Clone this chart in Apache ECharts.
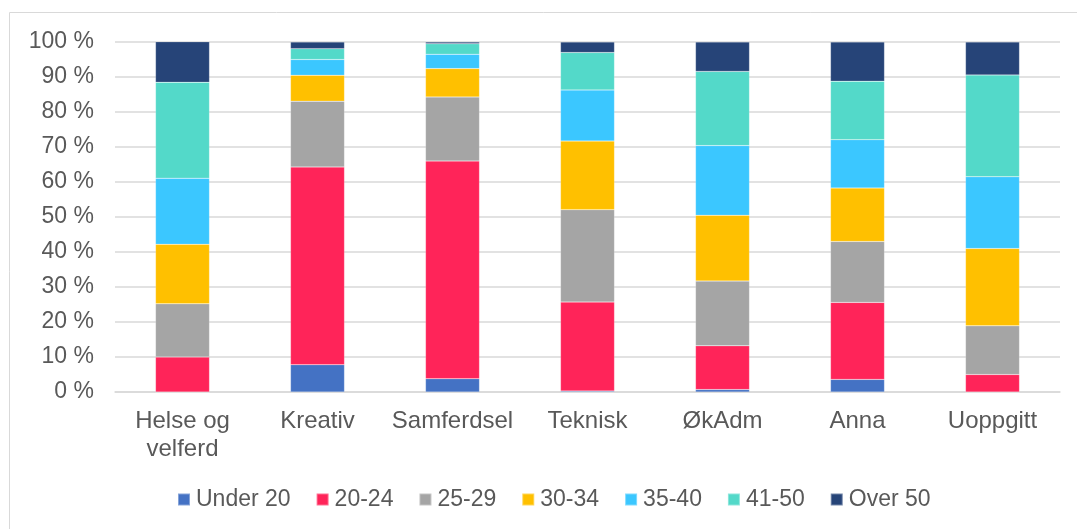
<!DOCTYPE html>
<html>
<head>
<meta charset="utf-8">
<script src="https://cdn.jsdelivr.net/npm/echarts@6/dist/echarts.min.js"></script>
<style>
  html, body { margin: 0; padding: 0; background: #fff; }
  #chart { width: 1077px; height: 529px; }
</style>
</head>
<body>
<div id="chart"></div>
<script>
const categories = ['Helse og\nvelferd', 'Kreativ', 'Samferdsel', 'Teknisk', 'ØkAdm', 'Anna', 'Uoppgitt'];

// share of each age group per area, in percent
const under20 = [0, 7.8, 3.8, 0.3, 0.7, 3.6, 0];
const age20to24 = [10.0, 56.5, 62.2, 25.4, 12.5, 22.0, 5.0];
const age25to29 = [15.2, 18.8, 18.3, 26.4, 18.5, 17.4, 13.9];
const age30to34 = [17.0, 7.4, 8.1, 19.6, 18.8, 15.3, 22.1];
const age35to40 = [18.9, 4.5, 4.1, 14.6, 19.9, 13.8, 20.5];
const age41to50 = [27.4, 3.1, 3.0, 10.7, 21.2, 16.7, 29.1];
const over50 = [11.6, 1.9, 0.5, 3.0, 8.4, 11.2, 9.4];

const seriesNames = ['Under 20', '20-24', '25-29', '30-34', '35-40', '41-50', 'Over 50'];
const seriesData = [under20, age20to24, age25to29, age30to34, age35to40, age41to50, over50];
const colors = ['#4472C4', '#FF2459', '#A5A5A5', '#FFC000', '#3BC7FF', '#53D9C9', '#264478'];

const textColor = '#595959';
const font = 'Liberation Sans, Arial, sans-serif';

const myChart = echarts.init(document.getElementById('chart'));

const option = {
  animation: false,
  color: colors,
  textStyle: { fontFamily: font },
  graphic: [{
    type: 'rect',
    shape: { x: 9.5, y: 12.5, width: 1200, height: 600 },
    style: { fill: 'none', stroke: '#d9d9d9', lineWidth: 1 },
    silent: true
  }],
  grid: { left: 115, right: 17, top: 42, bottom: 137 },
  legend: {
    top: 483,
    left: 172,
    itemWidth: 12,
    itemHeight: 12,
    itemGap: 25,
    icon: 'rect',
    textStyle: { color: textColor, fontSize: 23, fontFamily: font, padding: [0, 0, 0, 1] },
    data: seriesNames
  },
  xAxis: {
    type: 'category',
    data: categories,
    axisLine: { show: true, lineStyle: { color: '#d9d9d9', width: 1.5 } },
    axisTick: { show: false },
    axisLabel: { color: textColor, fontSize: 24, lineHeight: 28, margin: 15, interval: 0 }
  },
  yAxis: {
    type: 'value',
    min: 0,
    max: 100,
    interval: 10,
    axisLine: { show: false },
    axisTick: { show: false },
    splitLine: { lineStyle: { color: '#d9d9d9', width: 1.5 } },
    axisLabel: { color: textColor, fontSize: 23, margin: 21, formatter: '{value} %' }
  },
  series: seriesNames.map((name, i) => ({
    name: name,
    type: 'bar',
    stack: 'total',
    barWidth: 54,
    data: seriesData[i],
    itemStyle: { borderColor: 'rgba(255,255,255,0.35)', borderWidth: 0.5 }
  }))
};

myChart.setOption(option);
</script>
</body>
</html>
